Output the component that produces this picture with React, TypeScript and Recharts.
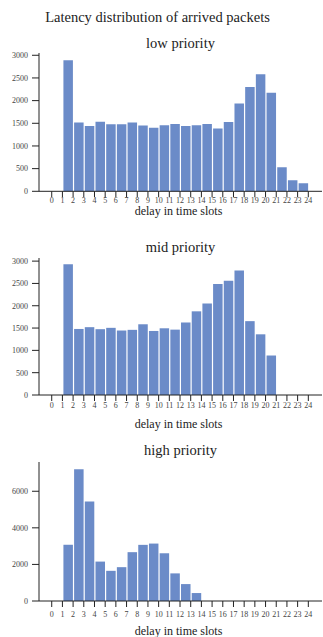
import { Bar, BarChart, XAxis, YAxis } from "recharts";

const BAR = "#6b8bc8";
const AXIS = "#222222";
const TICK_TEXT = "#444444";
const SERIF = "'Liberation Serif', 'Times New Roman', serif";

// delay slots shown on the x axis
const SLOT_TICKS = [0, 1, 2, 3, 4, 5, 6, 7, 8, 9, 10, 11, 12, 13, 14, 15, 16, 17, 18, 19, 20, 21, 22, 23, 24];

// low priority: slots 1..23
const LOW_SLOTS = [1, 2, 3, 4, 5, 6, 7, 8, 9, 10, 11, 12, 13, 14, 15, 16, 17, 18, 19, 20, 21, 22, 23];
const LOW_COUNTS = [2890, 1520, 1440, 1535, 1480, 1480, 1515, 1450, 1400, 1455, 1485, 1440, 1455, 1485, 1385, 1530, 1935, 2300, 2580, 2175, 530, 245, 175];
const LOW_TICKS = [0, 500, 1000, 1500, 2000, 2500, 3000];

// mid priority: slots 1..20
const MID_SLOTS = [1, 2, 3, 4, 5, 6, 7, 8, 9, 10, 11, 12, 13, 14, 15, 16, 17, 18, 19, 20];
const MID_COUNTS = [2930, 1480, 1520, 1475, 1505, 1445, 1460, 1585, 1435, 1495, 1465, 1625, 1875, 2050, 2485, 2560, 2790, 1655, 1360, 885];
const MID_TICKS = [0, 500, 1000, 1500, 2000, 2500, 3000];

// high priority: slots 1..13
const HIGH_SLOTS = [1, 2, 3, 4, 5, 6, 7, 8, 9, 10, 11, 12, 13];
const HIGH_COUNTS = [3075, 7200, 5440, 2155, 1650, 1850, 2670, 3070, 3140, 2610, 1510, 925, 435];
const HIGH_TICKS = [0, 2000, 4000, 6000];

// each bar covers [slot, slot + 1]
const rows = (slots: number[], counts: number[]) =>
  slots.map((s, i) => ({ slot: s + 0.5, count: counts[i] }));

function Panel({
  title,
  titleY,
  plotTop,
  axisY,
  axisTitleY,
  yMax,
  yTicks,
  tickGap,
  data,
}: {
  title: string;
  titleY: number;
  plotTop: number;
  axisY: number;
  axisTitleY: number;
  yMax: number;
  yTicks: number[];
  tickGap: number;
  data: { slot: number; count: number }[];
}) {
  const top = plotTop - 6;
  const xAxisH = 24;
  const height = axisY + xAxisH - top;
  return (
    <>
      <div
        style={{
          position: "absolute",
          left: 39,
          width: 283,
          top: titleY - 9,
          textAlign: "center",
          fontFamily: SERIF,
          fontSize: 14.5,
          lineHeight: "18px",
          color: "#222",
        }}
      >
        {title}
      </div>
      <div style={{ position: "absolute", left: 0, top }}>
        <BarChart
          width={323}
          height={height}
          data={data}
          margin={{ top: 6, right: 1, left: 0, bottom: 0 }}
        >
          <XAxis
            type="number"
            dataKey="slot"
            domain={[-1.19, 25.28]}
            ticks={SLOT_TICKS}
            interval={0}
            allowDataOverflow
            height={xAxisH}
            tickSize={6}
            tickMargin={tickGap}
            stroke={AXIS}
            tick={{ fill: TICK_TEXT, fontSize: 8, fontFamily: SERIF }}
          />
          <YAxis
            type="number"
            domain={[0, yMax]}
            ticks={yTicks}
            width={39}
            tickSize={7}
            tickMargin={4}
            stroke={AXIS}
            tick={{ fill: TICK_TEXT, fontSize: 8, fontFamily: SERIF }}
          />
          <Bar dataKey="count" fill={BAR} barSize={9.5} isAnimationActive={false} />
        </BarChart>
      </div>
      <div
        style={{
          position: "absolute",
          left: 39,
          width: 279,
          top: axisTitleY - 8,
          textAlign: "center",
          fontFamily: SERIF,
          fontSize: 12,
          lineHeight: "15px",
          color: "#222",
        }}
      >
        delay in time slots
      </div>
    </>
  );
}

export default function App() {
  return (
    <div
      style={{
        position: "absolute",
        left: 0,
        top: 0,
        width: 323,
        height: 637,
        background: "#fff",
        overflow: "hidden",
      }}
    >
      <div
        style={{
          position: "absolute",
          left: 0,
          width: 315,
          top: 8,
          textAlign: "center",
          fontFamily: SERIF,
          fontSize: 14.5,
          lineHeight: "18px",
          color: "#222",
        }}
      >
        Latency distribution of arrived packets
      </div>
      <Panel
        title="low priority"
        titleY={43}
        plotTop={52.7}
        axisY={191}
        axisTitleY={212}
        yMax={3050}
        yTicks={LOW_TICKS}
        tickGap={0}
        data={rows(LOW_SLOTS, LOW_COUNTS)}
      />
      <Panel
        title="mid priority"
        titleY={247}
        plotTop={258}
        axisY={395}
        axisTitleY={425}
        yMax={3070}
        yTicks={MID_TICKS}
        tickGap={1}
        data={rows(MID_SLOTS, MID_COUNTS)}
      />
      <Panel
        title="high priority"
        titleY={450}
        plotTop={462}
        axisY={601}
        axisTitleY={632}
        yMax={7600}
        yTicks={HIGH_TICKS}
        tickGap={4}
        data={rows(HIGH_SLOTS, HIGH_COUNTS)}
      />
    </div>
  );
}
